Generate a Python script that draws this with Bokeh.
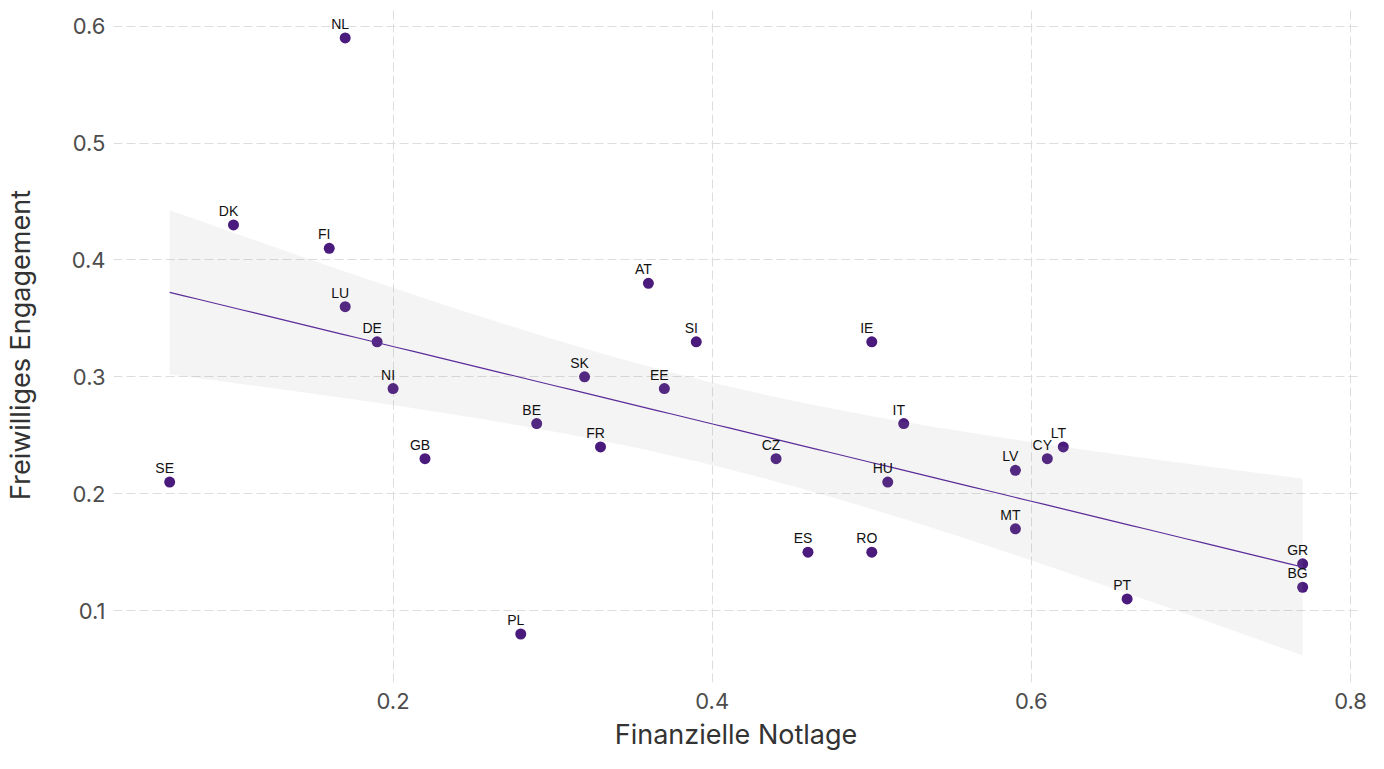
import numpy as np
from bokeh.plotting import figure
from bokeh.models import ColumnDataSource, Range1d, FixedTicker
from bokeh.core.properties import value
from bokeh.embed import file_html
from bokeh.resources import INLINE

countries = ["NL", "DK", "FI", "LU", "DE", "NI", "GB", "SE", "PL", "BE", "SK", "FR", "AT", "SI",
             "EE", "CZ", "ES", "RO", "IE", "IT", "HU", "LV", "MT", "CY", "LT", "PT", "GR", "BG"]
notlage = [0.17, 0.10, 0.16, 0.17, 0.19, 0.20, 0.22, 0.06, 0.28, 0.29, 0.32, 0.33, 0.36, 0.39,
           0.37, 0.44, 0.46, 0.50, 0.50, 0.52, 0.51, 0.59, 0.59, 0.61, 0.62, 0.66, 0.77, 0.77]
engagement = [0.59, 0.43, 0.41, 0.36, 0.33, 0.29, 0.23, 0.21, 0.08, 0.26, 0.30, 0.24, 0.38, 0.33,
              0.29, 0.23, 0.15, 0.15, 0.33, 0.26, 0.21, 0.22, 0.17, 0.23, 0.24, 0.11, 0.14, 0.12]
x_ticks = [0.2, 0.4, 0.6, 0.8]
y_ticks = [0.1, 0.2, 0.3, 0.4, 0.5, 0.6]
x_title = "Finanzielle Notlage"
y_title = "Freiwilliges Engagement"

# linear fit with 95% confidence band (as geom_smooth(method="lm"))
xa = np.array(notlage)
ya = np.array(engagement)
n = len(xa)
b, a = np.polyfit(xa, ya, 1)
resid = ya - (a + b * xa)
s = np.sqrt(np.sum(resid ** 2) / (n - 2))
sxx = np.sum((xa - xa.mean()) ** 2)
t975 = 2.0555  # t quantile, df = 26
xs = np.linspace(xa.min(), xa.max(), 80)
fit = a + b * xs
se = s * np.sqrt(1.0 / n + (xs - xa.mean()) ** 2 / sxx)
band = ColumnDataSource(dict(x=xs, y=fit, lo=fit - t975 * se, hi=fit + t975 * se))

src = ColumnDataSource(dict(x=notlage, y=engagement, label=countries))

p = figure(width=1368, height=753, output_backend="svg", toolbar_location=None,
           x_range=Range1d(0.0248, 0.805), y_range=Range1d(0.0385, 0.616),
           min_border_left=111, min_border_right=10, min_border_top=7, min_border_bottom=70)
p.outline_line_color = None
p.background_fill_color = "white"
p.border_fill_color = "white"

p.scatter("x", "y", source=src, size=11, fill_color="#4b1a7d", line_color=None)
p.varea(x="x", y1="lo", y2="hi", source=band, fill_color="#999999", fill_alpha=0.11)
p.line("x", "y", source=band, line_color="#5b2c9a", line_width=1.2)
p.text("x", "y", text="label", source=src, x_offset=-5, y_offset=-6,
       text_align="center", text_baseline="bottom", text_font=value("Liberation Sans"),
       text_font_size="14px", text_color="#111111")

for ax in (p.xaxis[0], p.yaxis[0]):
    ax.axis_line_color = None
    ax.major_tick_line_color = None
    ax.minor_tick_line_color = None
    ax.major_tick_out = 0
    ax.major_tick_in = 0
    ax.minor_tick_out = 0
    ax.minor_tick_in = 0
    ax.major_label_text_font = "Inter"
    ax.major_label_text_font_size = "22px"
    ax.major_label_text_color = "#4d4d4d"
    ax.axis_label_text_font = "Inter"
    ax.axis_label_text_font_size = "27px"
    ax.axis_label_text_font_style = "normal"
    ax.axis_label_text_color = "#333333"

p.xaxis.ticker = FixedTicker(ticks=x_ticks)
p.yaxis.ticker = FixedTicker(ticks=y_ticks)
p.xaxis.axis_label = x_title
p.yaxis.axis_label = y_title
p.xaxis.major_label_standoff = 10
p.yaxis.major_label_standoff = 8
p.xaxis.axis_label_standoff = 6
p.yaxis.axis_label_standoff = 32

p.grid.grid_line_color = "#dddddd"
p.grid.grid_line_dash = "9 4"
p.grid.grid_line_width = 1

open("out.html", "w").write(file_html(p, INLINE))
